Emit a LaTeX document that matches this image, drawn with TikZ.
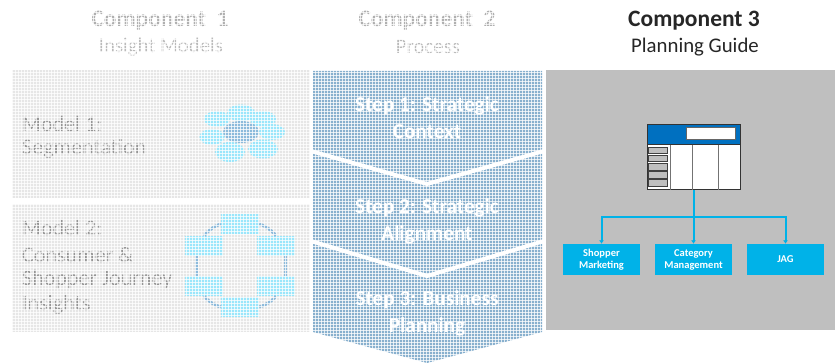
\documentclass[tikz,border=0pt]{standalone}
\usepackage{fontspec}
\setmainfont{Carlito}
\usetikzlibrary{shapes.geometric,arrows.meta}

\definecolor{planblue}{HTML}{0070C0}
\definecolor{boxblue}{HTML}{00B2E8}
\definecolor{stepblue}{HTML}{88B0CE}
\definecolor{pale}{HTML}{E6E6E6}
\definecolor{paletext}{HTML}{959595}
\definecolor{cloudblue}{HTML}{9AE6FB}
\definecolor{ringblue}{HTML}{8CBADB}

\tikzset{
  title/.style={font=\bfseries\fontsize{23.5}{26}\selectfont},
  subtitle/.style={font=\fontsize{20.8}{23}\selectfont},
  modeltext/.style={anchor=west,inner sep=0pt,text=paletext,font=\fontsize{22}{24}\selectfont},
  steptext/.style={inner sep=0pt,text=white,font=\bfseries\fontsize{21.2}{24}\selectfont},
  cloudpart/.style={ellipse,fill=cloudblue,inner sep=0pt},
  ringbox/.style={fill=cloudblue,inner sep=0pt,minimum width=38pt,minimum height=20pt},
  ringline/.style={ringblue,line width=3pt},
  meshline/.style={white,line width=.8pt,opacity=.75},
  rowbox/.style={draw=black!75,line width=.9pt,fill=black!25,inner sep=0pt,minimum width=19pt,minimum height=6.5pt},
  guidebox/.style={fill=boxblue,text=white,inner sep=0pt,minimum width=77pt,minimum height=31pt,align=center,font=\bfseries\fontsize{10.5}{12}\selectfont},
  guideline/.style={draw=boxblue,line width=2pt,-{Latex[length=3.5pt,width=5pt]}},
}

\begin{document}
\begin{tikzpicture}[x=1pt,y=-1pt]
\useasboundingbox (0,0) rectangle (835,363);

% panels
\fill [pale] (12,70) rectangle (310,198);
\fill [pale] (12,204) rectangle (310,332);
\fill [stepblue] (313,71) -- (542,71) -- (542,332) -- (427,363) -- (313,332) -- cycle;
\draw [white,line width=4pt] (311,151) -- (427,184) -- (544,151);
\draw [white,line width=4pt] (311,241) -- (427,276) -- (544,241);
\fill [black!25] (546,70) rectangle (835,330);

% titles
\node [title,text=paletext!75] (comp1) at (160,21) {Component\ \ 1};
\node [subtitle,text=paletext!65] (sub1) at (161,47) {Insight Models};
\node [title,text=paletext!75] (comp2) at (427,21) {Component\ \ 2};
\node [subtitle,text=paletext!65] (sub2) at (428,47) {Process};
\node [title,text=black!85] (comp3) at (694,21) {Component 3};
\node [subtitle,text=black!85] (sub3) at (695,47) {Planning Guide};

% models
\node [modeltext] (mod1a) at (22,124) {Model 1:};
\node [modeltext] (mod1b) at (22,149) {Segmentation};
\node [modeltext] (mod2a) at (22,228) {Model 2:};
\node [modeltext] (mod2b) at (22,255) {Consumer \&};
\node [modeltext] (mod2c) at (22,280) {Shopper Journey};
\node [modeltext] (mod2d) at (22,305) {Insights};

% cloud
\node [cloudpart,minimum width=28pt,minimum height=17pt] (cl1) at (241,113) {};
\node [cloudpart,minimum width=26pt,minimum height=16pt] (cl2) at (217,119) {};
\node [cloudpart,minimum width=26pt,minimum height=16pt] (cl3) at (263,119) {};
\node [cloudpart,minimum width=25pt,minimum height=16pt] (cl4) at (212,137) {};
\node [cloudpart,minimum width=26pt,minimum height=16pt] (cl5) at (272,132) {};
\node [cloudpart,minimum width=30pt,minimum height=20pt] (cl6) at (230,152) {};
\node [cloudpart,minimum width=30pt,minimum height=19pt] (cl7) at (263,149) {};
\node [cloudpart,fill=ringblue,minimum width=36pt,minimum height=22pt] (cl8) at (241,132) {};

% ring
\node [ringbox] (rtop) at (240,224) {};
\node [ringbox] (rul) at (204,246) {};
\node [ringbox] (rur) at (276,246) {};
\node [ringbox] (rll) at (204,286) {};
\node [ringbox] (rlr) at (276,286) {};
\node [ringbox] (rbot) at (240,307) {};
\draw [ringline] (rtop.west) to [bend right=15] (rul.north);
\draw [ringline] (rtop.east) to [bend left=15] (rur.north);
\draw [ringline] (rbot.west) to [bend left=15] (rll.south);
\draw [ringline] (rbot.east) to [bend right=15] (rlr.south);
\draw [ringline] (rul.south -| 196,0) -- (rll.north -| 196,0);
\draw [ringline] (rur.south -| 285,0) -- (rlr.north -| 285,0);

% steps
\node [steptext] (step1a) at (427,106) {Step 1: Strategic};
\node [steptext] (step1b) at (427,132) {Context};
\node [steptext] (step2a) at (427,208) {Step 2: Strategic};
\node [steptext] (step2b) at (427,235) {Alignment};
\node [steptext] (step3a) at (427,300) {Step 3: Business};
\node [steptext] (step3b) at (427,327) {Planning};

% mesh over the faded part
\foreach \gx in {0,3,...,543} {
  \draw [meshline] (\gx,0) -- (\gx,363);
}
\foreach \gy in {0,3,...,363} {
  \draw [meshline] (0,\gy) -- (544.5,\gy);
}

% planning guide table
\node [draw=black!80,line width=1pt,fill=white,inner sep=0pt,minimum width=93pt,minimum height=65pt] (table) at (693.5,157.5) {};
\node [draw=black!80,line width=1pt,fill=planblue,inner sep=0pt,minimum width=93pt,minimum height=20pt] (tablehead) at (693.5,135) {};
\node [draw=black!60,line width=1pt,fill=white,inner sep=0pt,minimum width=49pt,minimum height=12pt] (tablefield) at (710.5,134) {};
\draw [black!55,line width=1pt] (670,145) -- (670,190);
\draw [black!55,line width=1pt] (692,145) -- (692,190);
\draw [black!55,line width=1pt] (718,145) -- (718,190);
\node [rowbox] (row1) at (658,150.5) {};
\node [rowbox] (row2) at (658,158.7) {};
\node [rowbox] (row3) at (658,166.8) {};
\node [rowbox] (row4) at (658,175) {};
\node [rowbox] (row5) at (658,183.2) {};

% guides
\node [guidebox] (shopper) at (601.5,259.5) {Shopper\\Marketing};
\node [guidebox] (category) at (693.5,259.5) {Category\\Management};
\node [guidebox] (jag) at (785.5,259.5) {JAG};
\coordinate (bus) at (693.5,217.5);
\draw [guideline] (table.south) -- (category.north);
\draw [guideline] (bus) -| (shopper.north);
\draw [guideline] (bus) -| (jag.north);
\end{tikzpicture}
\end{document}
